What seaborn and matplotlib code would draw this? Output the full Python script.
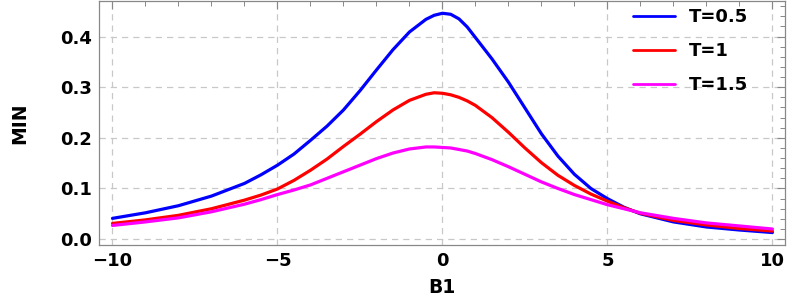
import numpy as np
import pandas as pd
import matplotlib
matplotlib.use("Agg")
import matplotlib.pyplot as plt
import seaborn as sns
from matplotlib.ticker import MultipleLocator, FormatStrFormatter

B1 = [-10, -9, -8, -7, -6, -5.5, -5, -4.5, -4, -3.5, -3, -2.5, -2, -1.5, -1, -0.5, -0.25,
      0, 0.25, 0.5, 0.75, 1, 1.5, 2, 2.5, 3, 3.5, 4, 4.5, 5, 5.5, 6, 7, 8, 9, 10]
min_T05 = [0.041, 0.052, 0.066, 0.085, 0.110, 0.127, 0.146, 0.168, 0.195, 0.223, 0.255, 0.293,
           0.334, 0.374, 0.409, 0.434, 0.442, 0.446, 0.444, 0.435, 0.419, 0.398, 0.356, 0.310,
           0.259, 0.208, 0.164, 0.128, 0.100, 0.080, 0.063, 0.050, 0.034, 0.024, 0.018, 0.013]
min_T1 = [0.031, 0.038, 0.047, 0.060, 0.077, 0.087, 0.099, 0.116, 0.136, 0.158, 0.183, 0.207,
          0.232, 0.255, 0.274, 0.286, 0.289, 0.288, 0.285, 0.280, 0.273, 0.264, 0.240, 0.211,
          0.180, 0.151, 0.126, 0.106, 0.089, 0.075, 0.062, 0.051, 0.037, 0.028, 0.021, 0.016]
min_T15 = [0.027, 0.034, 0.042, 0.054, 0.069, 0.078, 0.088, 0.097, 0.107, 0.120, 0.133, 0.146,
           0.159, 0.170, 0.178, 0.182, 0.182, 0.181, 0.180, 0.177, 0.174, 0.169, 0.157, 0.143,
           0.128, 0.113, 0.100, 0.088, 0.078, 0.068, 0.060, 0.052, 0.041, 0.032, 0.026, 0.020]
labels = ["T=0.5", "T=1", "T=1.5"]
colors = ["#0000ff", "#ff0000", "#ff00ff"]

df = pd.concat([
    pd.DataFrame({"B1": B1, "MIN": v, "T": lab})
    for v, lab in zip([min_T05, min_T1, min_T15], labels)
])

sns.set_style("white")
plt.rcParams["font.family"] = ["DejaVu Sans"]
plt.rcParams["text.color"] = "black"
plt.rcParams["axes.labelcolor"] = "black"
plt.rcParams["xtick.labelcolor"] = "black"
plt.rcParams["ytick.labelcolor"] = "black"

fig = plt.figure(figsize=(7.93, 3.0), dpi=100)
ax = fig.add_axes([0.1248, 0.183, 0.865, 0.815])

sns.lineplot(data=df, x="B1", y="MIN", hue="T", palette=dict(zip(labels, colors)),
             linewidth=2.3, ax=ax, sort=False, estimator=None)

ax.set_xlim(-10.41, 10.38)
ax.set_ylim(-0.0118, 0.471)
ax.xaxis.set_minor_locator(MultipleLocator(1))
ax.yaxis.set_major_locator(MultipleLocator(0.1))
ax.yaxis.set_minor_locator(MultipleLocator(0.02))
ax.yaxis.set_major_formatter(FormatStrFormatter("%.1f"))
ax.set_xticks([-10, -5, 0, 5, 10])
ax.set_xticklabels(["\u221210", "\u22125", "0", "5", "10"])

ax.grid(True, which="major", color="#c8c8c8", linestyle=(0, (5, 4)), linewidth=0.9)
for s in ax.spines.values():
    s.set_color("#888888")
    s.set_linewidth(0.9)
ax.tick_params(which="both", direction="in", top=True, right=True, color="#888888",
               labelcolor="black")
ax.tick_params(which="major", length=6, width=0.8, labelsize=13, pad=5)
ax.tick_params(which="minor", length=3.5, width=0.7)
for t in ax.get_xticklabels() + ax.get_yticklabels():
    t.set_fontweight("bold")

ax.set_xlabel("B1", fontsize=13.5, fontweight="bold", labelpad=6, color="black")
ax.set_ylabel("MIN", fontsize=13.5, fontweight="bold", labelpad=22, color="black")

leg = ax.legend(loc="upper left", frameon=False, prop={"weight": "bold", "size": 13},
                handlelength=2.3, handletextpad=0.8, labelspacing=0.88,
                borderaxespad=0.0, bbox_to_anchor=(0.768, 0.998))
for l in leg.get_lines():
    l.set_linewidth(2.0)
for t in leg.get_texts():
    t.set_color("black")

fig.savefig("out.png", dpi=100)
